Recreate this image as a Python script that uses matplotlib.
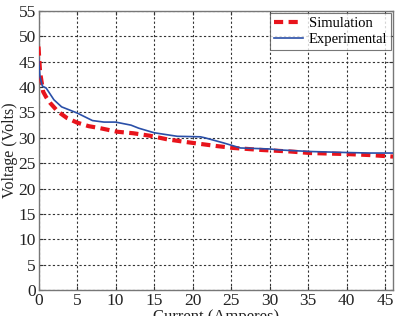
import matplotlib
matplotlib.use("Agg")
import matplotlib.pyplot as plt

plt.rcParams['font.family'] = ['Liberation Serif', 'DejaVu Serif']
plt.rcParams['mathtext.fontset'] = 'stix'

sim_i = [0.0, 0.2, 0.6, 1.0, 1.5, 2.5, 3.7, 5.0, 6.5, 8.0, 10.2, 12.3, 14.5, 16.7, 19.0, 21.0, 23.0, 25.3, 29.0, 32.7, 35.3, 40.0, 43.0, 46.0]
sim_v = [48.0, 43.0, 39.1, 38.0, 36.9, 35.2, 33.9, 33.0, 32.3, 31.9, 31.2, 30.9, 30.4, 29.7, 29.2, 28.8, 28.4, 28.0, 27.6, 27.3, 27.0, 26.8, 26.6, 26.3]

exp_i = [0.0, 0.2, 0.5, 1.0, 2.0, 3.0, 5.0, 7.0, 8.5, 10.0, 12.0, 13.0, 15.0, 18.0, 21.0, 21.6, 24.0, 26.2, 30.0, 31.4, 35.3, 40.0, 43.0, 46.0]
exp_v = [45.8, 42.0, 40.2, 39.8, 37.5, 36.1, 34.9, 33.4, 33.1, 33.1, 32.5, 31.9, 31.0, 30.3, 30.2, 30.0, 29.0, 28.0, 27.8, 27.6, 27.3, 27.1, 27.0, 27.0]

x_ticks = [0, 5, 10, 15, 20, 25, 30, 35, 40, 45]
y_ticks = [0, 5, 10, 15, 20, 25, 30, 35, 40, 45, 50, 55]

fig = plt.figure(figsize=(3.97, 3.16), dpi=100)
ax = fig.add_axes([38.5/397, 1-290/316, (393-38.5)/397, (290-11)/316])

ax.plot(sim_i, sim_v, color='#e8141c', linestyle=(0, (2.2, 1.3)), linewidth=3.0, label='Simulation', zorder=3)
ax.plot(exp_i, exp_v, color='#2a4fa8', linestyle='-', linewidth=1.2, label='Experimental', zorder=4)

ax.set_xlim(0, 46)
ax.set_ylim(0, 55)
ax.set_xticks(x_ticks)
ax.set_yticks(y_ticks)
ax.tick_params(direction='in', top=True, right=True, labelsize=12.5, length=3, pad=2, colors='#333333')
ax.tick_params(labelcolor='#222222')
ax.grid(True, color='#333333', linestyle=(0, (2, 2)), linewidth=0.8)
for s in ax.spines.values():
    s.set_color('#777777')
    s.set_linewidth(1.0)

ax.set_ylabel('Voltage (Volts)', fontsize=11.5, labelpad=0, color='#222222')
ax.set_xlabel('Current (Amperes)', fontsize=12, labelpad=0, color='#222222')

leg = ax.legend(loc='upper right', fontsize=10.5, frameon=True, fancybox=False,
                borderpad=0.25, labelspacing=0.2, handlelength=2.0, handletextpad=0.4,
                borderaxespad=0.15)
leg.get_frame().set_edgecolor('#555555')
leg.get_frame().set_linewidth(0.8)

fig.savefig('out.png', dpi=100)
